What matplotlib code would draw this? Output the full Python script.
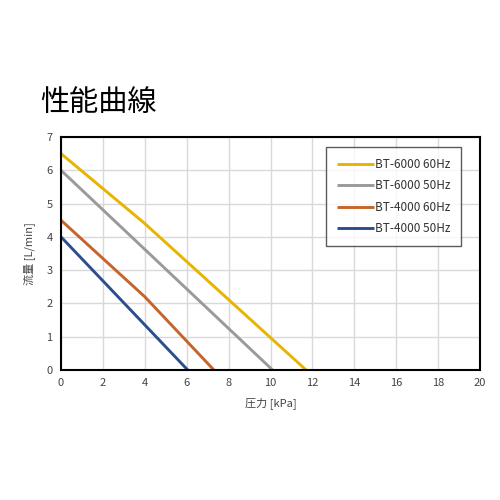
import matplotlib.pyplot as plt

plt.rcParams['font.family'] = ['Noto Sans CJK JP', 'DejaVu Sans']

# performance curves: pressure [kPa] vs flow [L/min]
labels = ['BT-6000 60Hz', 'BT-6000 50Hz', 'BT-4000 60Hz', 'BT-4000 50Hz']
pressure = [
    [0, 4, 11.7],
    [0, 10.1],
    [0, 4, 7.3],
    [0, 6.05],
]
flow = [
    [6.5, 4.4, 0],
    [6.0, 0],
    [4.5, 2.2, 0],
    [4.0, 0],
]
colours = ['#E8B400', '#9A9A9A', '#C5652B', '#2D4E8C']

fig = plt.figure(figsize=(5, 5), dpi=100)
ax = fig.add_axes([0.122, 0.26, 0.838, 0.466])

for x, y, c, lbl in zip(pressure, flow, colours, labels):
    ax.plot(x, y, color=c, lw=2.1, label=lbl, solid_capstyle='butt')

ax.set_xlim(0, 20)
ax.set_ylim(0, 7)
ax.set_xticks(range(0, 21, 2))
ax.set_yticks(range(0, 8))
ax.grid(True, color='#d9d9d9', lw=1)
ax.set_axisbelow(True)
for s in ax.spines.values():
    s.set_linewidth(1.5)
    s.set_color('black')
ax.tick_params(length=0, labelsize=8, colors='#444444', pad=6)

ax.set_xlabel('圧力 [kPa]', fontsize=8, color='#444444', labelpad=6)
ax.set_ylabel('流量 [L/min]', fontsize=8, color='#444444', labelpad=8)

leg = ax.legend(loc='upper right', bbox_to_anchor=(0.955, 0.955), fontsize=8.5,
                frameon=True, fancybox=False, edgecolor='#333333',
                handlelength=3.2, handletextpad=0.05, labelspacing=0.7,
                borderpad=0.9, borderaxespad=0)
leg.get_frame().set_linewidth(1)
for t in leg.get_texts():
    t.set_color('#333333')

fig.text(0.08, 0.795, '性能曲線', fontsize=21, ha='left', va='center')

fig.savefig('out.png', dpi=100)
